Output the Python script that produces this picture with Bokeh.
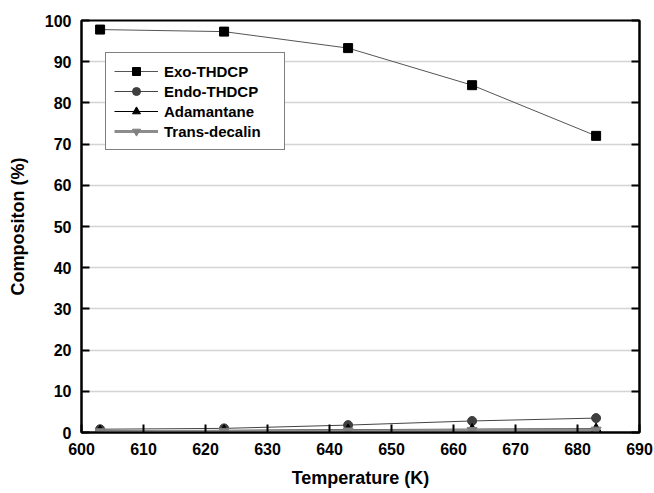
from bokeh.plotting import figure
from bokeh.models import LinearAxis, Range1d, Legend, LegendItem, FixedTicker
from bokeh.embed import file_html
from bokeh.resources import INLINE

temps = [603, 623, 643, 663, 683]
exo = [97.8, 97.3, 93.3, 84.3, 72.0]
endo = [0.8, 1.0, 1.8, 2.8, 3.5]
adam = [0.4, 0.5, 0.7, 0.8, 0.9]
trans = [0.2, 0.3, 0.4, 0.5, 0.6]
xticks = list(range(600, 691, 10))
yticks = list(range(0, 101, 10))

FONT = "Liberation Sans"

p = figure(width=654, height=493, output_backend="svg", toolbar_location=None,
           x_range=Range1d(600, 690), y_range=Range1d(0, 100),
           min_border_left=81, min_border_right=15, min_border_top=20, min_border_bottom=61)

p.outline_line_color = "black"
p.outline_line_width = 2
p.xgrid.visible = False
p.ygrid.grid_line_color = "#d4d4d4"
p.ygrid.grid_line_width = 1.5
p.ygrid.ticker = FixedTicker(ticks=yticks)

for ax in [p.xaxis[0], p.yaxis[0]]:
    ax.axis_line_width = 2
    ax.axis_line_color = "black"
    ax.major_tick_in = 8
    ax.major_tick_out = 0
    ax.major_tick_line_width = 2
    ax.minor_tick_line_color = None
    ax.major_label_text_font = FONT
    ax.major_label_text_font_style = "bold"
    ax.major_label_text_font_size = "16px"
    ax.major_label_text_color = "black"
    ax.axis_label_text_font = FONT
    ax.axis_label_text_font_style = "bold"
    ax.axis_label_text_font_size = "18px"
    ax.axis_label_text_color = "black"

p.xaxis[0].ticker = FixedTicker(ticks=xticks)
p.yaxis[0].ticker = FixedTicker(ticks=yticks)
p.xaxis[0].axis_label = "Temperature (K)"
p.yaxis[0].axis_label = "Compositon (%)"
p.xaxis[0].major_label_standoff = 10
p.xaxis[0].axis_label_standoff = 10
p.yaxis[0].major_label_standoff = 10
p.yaxis[0].axis_label_standoff = 14

right = LinearAxis(ticker=FixedTicker(ticks=yticks), major_label_text_color=None,
                   major_label_text_font_size="10px",
                   major_tick_in=8, major_tick_out=0, major_tick_line_width=2,
                   axis_line_width=2, minor_tick_line_color=None)
p.add_layout(right, "right")

l1 = p.line(temps, exo, line_color="#555555", line_width=1)
m1 = p.scatter(temps, exo, marker="square", size=9, fill_color="black", line_color="black")
l2 = p.line(temps, endo, line_color="#444444", line_width=1)
m2 = p.scatter(temps, endo, marker="circle", size=9, fill_color="#3f3f3f", line_color="#3f3f3f")
l3 = p.line(temps, adam, line_color="black", line_width=1)
m3 = p.scatter(temps, adam, marker="triangle", size=10, fill_color="black", line_color="black")
l4 = p.line(temps, trans, line_color="#8c8c8c", line_width=3)
m4 = p.scatter(temps, trans, marker="inverted_triangle", size=10, fill_color="#808080", line_color="#808080")

legend = Legend(items=[
    LegendItem(label="Exo-THDCP", renderers=[l1, m1]),
    LegendItem(label="Endo-THDCP", renderers=[l2, m2]),
    LegendItem(label="Adamantane", renderers=[l3, m3]),
    LegendItem(label="Trans-decalin", renderers=[l4, m4]),
], location=(24, 282))
legend.border_line_color = "black"
legend.border_line_width = 1
legend.background_fill_alpha = 1
legend.label_text_font = FONT
legend.label_text_font_style = "bold"
legend.label_text_font_size = "15px"
legend.label_text_color = "black"
legend.glyph_width = 44
legend.glyph_height = 20
legend.label_height = 20
legend.label_width = 112
legend.spacing = 0
legend.padding = 8
legend.label_standoff = 6
legend.margin = 0
p.add_layout(legend, "center")

open("out.html", "w").write(file_html(p, INLINE))
